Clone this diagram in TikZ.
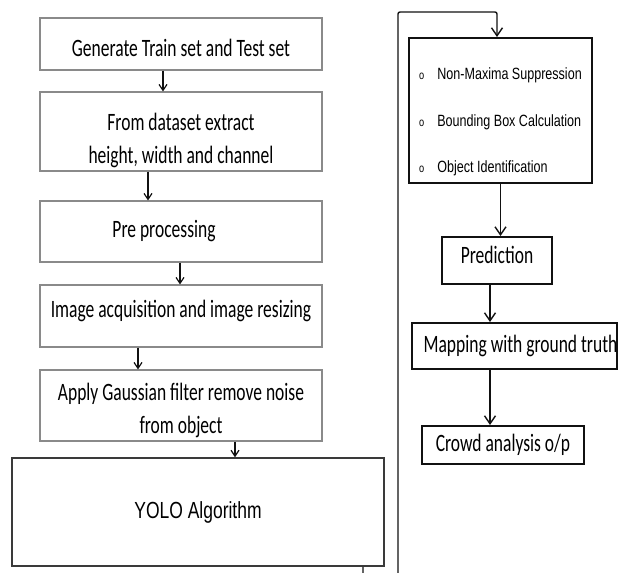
\documentclass[tikz,border=0pt]{standalone}
\usepackage{fontspec}
\newfontfamily\stepfont{Carlito}[FakeStretch=0.70]
\newfontfamily\listfont{Liberation Sans}[FakeStretch=0.77]
\newfontfamily\yolofont{Liberation Sans}[FakeStretch=0.75]
\newcommand{\listmark}{{\fontsize{12}{12}\selectfont o}\hspace{13pt}}
\usetikzlibrary{arrows.meta}
\definecolor{cgrey}{HTML}{8A8A8A}
\definecolor{cdark}{HTML}{3A3A3A}
\definecolor{cink}{HTML}{111111}
\tikzset{
  every picture/.style={line width=1.2pt},
  stage/.style={draw=cgrey, line width=1.1pt, inner sep=0pt, minimum width=282pt, align=center, font=\stepfont\fontsize{25}{32.5}\selectfont},
  yolobox/.style={draw=cdark, line width=1.5pt, inner sep=0pt, font=\yolofont\fontsize{23.3}{28}\selectfont},
  outbox/.style={draw=cink, line width=2pt, inner sep=0pt, align=center, font=\stepfont\fontsize{25}{32.5}\selectfont},
  flow/.style={-{Straight Barb[length=6pt,width=8pt]}, draw=cink, line width=1.2pt},
  link/.style={-{Straight Barb[length=8pt,width=11pt]}, draw=cink, line width=1.4pt},
}

\begin{document}
\begin{tikzpicture}[x=1pt, y=-1pt]
  \useasboundingbox (0,0) rectangle (619,573);
  \clip (0,0) rectangle (619,573);
  % left column
  \foreach \n/\y/\h/\t in {
     1/44/52/{\rule{0pt}{25pt}Generate Train set and Test set},
     2/131.5/79/{\rule{0pt}{35pt}From dataset extract\\height, width and channel},
     3/231.5/61/{Pre processing\hspace*{34pt}},
     4/316/62/{Image acquisition and image resizing\rule[-15pt]{0pt}{15pt}},
     5/405.5/71/{\rule{0pt}{27pt}Apply Gaussian filter remove noise\\from object}} {
    \node[stage, minimum height=\h] (s\n) at (181,\y) {\t};
  }
  \foreach \a/\b/\dx in {1/2/-18, 2/3/-33, 3/4/-1, 4/5/-43}
    \draw[flow] ([xshift=\dx]s\a.south) -- ([xshift=\dx]s\b.north);
  \node[yolobox, minimum width=372pt, minimum height=108pt] (yolo) at (198,512) {YOLO Algorithm};
  \draw[flow] ([xshift=54]s5.south) -- ([xshift=37]yolo.north);

  % right column
  \node[outbox, minimum width=183pt, minimum height=145pt, align=left,
        font=\listfont\fontsize{16.3}{46.4}\selectfont] (nms) at (500.5,110.5)
    {\rule{0pt}{35pt}\listmark Non-Maxima Suppression\\
     \listmark Bounding Box Calculation\\
     \listmark Object Identification};
  \node[outbox, minimum width=110pt, minimum height=47pt] (pred) at (497,260.5) {Prediction\rule[-12pt]{0pt}{12pt}};
  \node[outbox, minimum width=205pt, minimum height=46pt] (map) at (514.5,346) {\hspace*{12pt}Mapping with ground truth};
  \node[outbox, minimum width=162pt, minimum height=38pt] (crowd) at (503,445) {Crowd analysis o/p};
  \draw[link] (nms.south) -- (nms.south |- pred.north);
  \draw[link] ([xshift=-7]pred.south) -- ([xshift=-24.5]map.north);
  \draw[link] ([xshift=-24.5]map.south) -- ([xshift=-13]crowd.north);

  % loop from YOLO back to the top
  \coordinate (loopbot) at (398,590);
  \coordinate (looptop) at (398,12);
  \draw[link, rounded corners=2pt] ([xshift=165]yolo.south) |- (loopbot) -- (looptop) -| ([xshift=-3.5]nms.north);
\end{tikzpicture}
\end{document}
